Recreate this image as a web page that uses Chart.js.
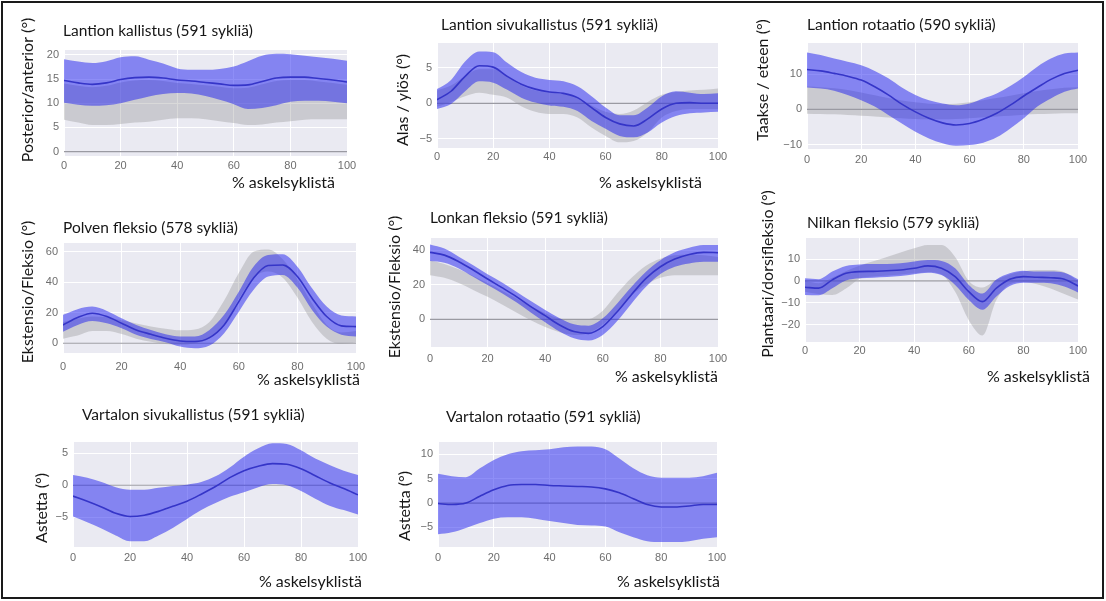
<!DOCTYPE html>
<html><head><meta charset="utf-8">
<script src="https://cdn.jsdelivr.net/npm/chart.js@4.4.1/dist/chart.umd.min.js"></script>
<style>
html,body{margin:0;padding:0;background:#fff;}
body{width:1106px;height:601px;position:relative;overflow:hidden;}
#frame{position:absolute;left:1px;top:1px;width:1099px;height:594px;border:2px solid #1a1a1a;}
canvas{position:absolute;}
</style></head><body>
<div id="frame"></div>
<script>
// ---- shared axis data ----
const X = [0,5,10,15,20,25,30,35,40,45,50,55,60,65,70,75,80,85,90,95,100];
const xTicks = [0,20,40,60,80,100];
const xLabel = '% askelsyklistä';

// ---- Panel 1: Lantion kallistus ----
const p1Title = 'Lantion kallistus (591 sykliä)';
const p1YLabel = 'Posterior/anterior (°)';
const p1YTicks = [0,5,10,15,20];
const p1Mean   = [14.7,14.2,13.9,14.2,14.9,15.3,15.4,15.2,14.8,14.6,14.3,14.0,13.7,13.8,14.5,15.2,15.4,15.4,15.1,14.8,14.4];
const p1BlueUp = [19.1,18.6,18.3,18.7,19.5,19.7,19.0,18.2,17.2,16.9,16.9,17.1,17.6,18.7,19.8,20.2,20.1,19.8,19.5,19.2,18.8];
const p1BlueLo = [10.1,9.7,9.5,9.6,10.0,10.7,11.4,11.9,12.1,12.0,11.5,10.7,9.8,8.8,9.0,9.6,10.3,10.5,10.5,10.3,10.0];
const p1GrayUp = [14.1,13.6,13.3,13.6,14.3,14.7,14.8,14.6,14.2,14.0,13.7,13.4,13.1,13.2,13.9,14.6,14.8,14.8,14.5,14.2,13.8];
const p1GrayLo = [6.6,6.0,5.5,5.5,5.7,6.0,6.2,6.6,6.9,6.9,6.7,6.3,5.9,5.5,5.6,6.0,6.3,6.6,6.7,6.7,6.7];

// ---- Panel 2: Lantion sivukallistus ----
const p2Title = 'Lantion sivukallistus (591 sykliä)';
const p2YLabel = 'Alas / ylös (°)';
const p2YTicks = [-5,0,5];
const p2Mean   = [0.5,1.7,3.8,5.3,5.1,3.8,2.7,2.0,1.6,1.4,0.8,-0.6,-2.0,-2.9,-3.2,-2.2,-0.8,0.0,0.1,0.0,0.0];
const p2BlueUp = [2.0,3.3,5.9,7.3,7.2,5.7,4.4,3.6,3.3,3.1,2.4,1.0,-0.6,-1.7,-1.7,-0.6,1.0,1.7,1.5,1.3,1.4];
const p2BlueLo = [-0.8,-0.1,1.7,3.1,2.9,1.9,0.8,0.1,-0.3,-0.5,-1.1,-2.5,-3.6,-4.6,-4.8,-4.1,-2.7,-1.8,-1.4,-1.3,-1.2];
const p2GrayUp = [1.8,2.5,3.8,4.8,4.8,3.8,2.5,1.8,1.5,1.3,0.8,-0.3,-1.2,-1.5,-1.0,0.2,1.2,1.6,1.8,1.9,2.1];
const p2GrayLo = [-0.5,0.2,1.0,1.5,1.2,0.8,-0.4,-1.2,-1.5,-1.5,-2.0,-3.4,-4.6,-5.5,-5.3,-4.1,-2.0,-1.1,-0.8,-0.8,-0.8];

// ---- Panel 3: Lantion rotaatio ----
const p3Title = 'Lantion rotaatio (590 sykliä)';
const p3YLabel = 'Taakse / eteen (°)';
const p3YTicks = [-10,0,10];
const p3Mean   = [11.3,10.9,10.2,9.4,8.3,6.4,4.1,1.5,-0.7,-2.5,-3.8,-4.4,-4.0,-2.8,-1.1,1.2,3.8,6.2,8.5,10.2,11.1];
const p3BlueUp = [16.1,15.4,14.4,13.5,12.5,10.9,8.8,6.2,4.1,2.6,1.7,1.2,1.7,3.1,4.5,6.6,9.2,12.1,14.4,15.8,16.1];
const p3BlueLo = [6.2,5.9,5.3,4.1,2.6,0.8,-1.6,-4.0,-6.3,-8.2,-9.6,-10.3,-10.1,-9.4,-7.9,-5.4,-2.5,0.8,3.1,5.0,5.9];
const p3GrayUp = [6.5,6.3,6.0,5.5,4.8,4.0,3.2,2.5,2.0,1.6,1.5,1.6,2.0,2.6,3.2,3.9,4.6,5.2,5.7,6.1,6.3];
const p3GrayLo = [-1.2,-1.3,-1.4,-1.6,-1.8,-2.0,-2.3,-2.5,-2.7,-2.8,-2.8,-2.7,-2.5,-2.2,-2.0,-1.8,-1.5,-1.3,-1.2,-1.1,-1.1];

// ---- Panel 4: Polven fleksio ----
const p4Title = 'Polven fleksio (578 sykliä)';
const p4YLabel = 'Ekstensio/Fleksio (°)';
const p4YTicks = [0,20,40,60];
const p4Mean   = [12.0,16.8,19.7,17.5,13.1,8.7,5.9,3.3,1.5,1.1,3.7,12.0,27.3,42.6,50.9,51.3,43.7,29.5,17.5,11.4,10.9];
const p4BlueUp = [18.6,22.3,24.0,21.2,16.4,12.0,8.7,5.9,4.4,4.4,8.7,18.6,33.8,50.2,57.9,58.3,50.2,36.0,24.0,18.1,17.5];
const p4BlueLo = [7.6,12.0,14.6,13.1,9.8,5.5,2.8,0.7,-2.2,-3.3,-1.5,6.6,20.7,34.9,43.7,44.8,36.5,21.8,10.9,5.5,4.4];
const p4GrayUp = [14,16,17.5,17,15,13,11,9.5,8.5,9,14,28,46,60,61.5,55,42,26,12,7,8];
const p4GrayLo = [3,5,8,8,6,3,1,-0.5,-1,0,3,12,29,43,47,43,30,14,3,-0.5,0.5];

// ---- Panel 5: Lonkan fleksio ----
const p5Title = 'Lonkan fleksio (591 sykliä)';
const p5YLabel = 'Ekstensio/Fleksio (°)';
const p5YTicks = [0,20,40];
const p5Mean   = [38.7,37.1,33.3,28.5,23.3,18.3,13.1,7.3,2.1,-3.3,-7.1,-8.1,-4.2,4.4,14.4,23.7,30.4,34.8,37.5,38.7,38.5];
const p5BlueUp = [43.3,41,36.2,31.3,26,21.3,16,10.6,5.4,0.6,-2.9,-3.7,0.6,9.2,18.8,27.5,34.2,38.7,41.3,42.9,42.9];
const p5BlueLo = [33.7,32.7,29.4,24.6,19.8,15,9.8,4,-1.7,-7.1,-11,-12.3,-9,-1,9.2,18.8,26.2,30.4,32.3,33.3,33.3];
const p5GrayUp = [34,32,29,25,21,16.5,12,7.5,3.5,0.5,-0.5,0,5,15,24,31,35,37,37.5,37,36];
const p5GrayLo = [25.5,24,21,17,13,8.5,4,-0.5,-4.5,-7.5,-9,-8,-3,5,14,20,24,25.5,25.5,25.5,25.5];

// ---- Panel 6: Nilkan fleksio ----
const p6Title = 'Nilkan fleksio (579 sykliä)';
const p6YLabel = 'Plantaari/dorsifleksio (°)';
const p6YTicks = [-20,-10,0,10];
const p6Mean   = [-2.9,-3.3,0.5,3.5,4.3,4.4,4.7,5.0,5.8,6.9,5.8,2.0,-4.9,-9.5,-3.4,0.8,2.0,1.7,1.5,0.8,-2.3];
const p6BlueUp = [1.2,0.8,4.3,6.9,7.6,7.8,7.8,8.1,8.9,9.6,9.2,5.8,-1.8,-5.8,0.5,3.5,4.7,4.3,4.3,3.8,0.8];
const p6BlueLo = [-6.4,-6.6,-3.4,0.2,1.2,1.5,1.8,2.3,3.1,3.8,2.7,-1.8,-8.7,-13.2,-7.2,-2.3,-0.8,-0.8,-1.1,-2.6,-5.3];
const p6GrayUp = [0,-1,1.5,4.5,7,9,11,13,15,16.5,16.5,11,0,-3,0.5,3,4.5,5,5,4,0];
const p6GrayLo = [-5,-6,-6.5,-3.5,1,2,2.5,3,3.5,4,3,-5,-18,-25,-9,-1.5,-0.5,-1.5,-3.5,-6,-8.5];

// ---- Panel 7: Vartalon sivukallistus ----
const p7Title = 'Vartalon sivukallistus (591 sykliä)';
const p7YLabel = 'Astetta (°)';
const p7YTicks = [-5,0,5];
const p7Mean   = [-1.7,-2.5,-3.4,-4.4,-4.9,-4.7,-4.1,-3.3,-2.5,-1.4,-0.2,1.2,2.3,3.0,3.4,3.3,2.6,1.5,0.4,-0.5,-1.5];
const p7BlueUp = [1.6,1.2,0.5,-0.3,-0.7,-0.7,-0.4,-0.1,0.1,0.5,1.4,2.8,4.5,5.8,6.6,6.5,5.5,4.2,3.2,2.3,1.6];
const p7BlueLo = [-4.9,-5.8,-6.8,-7.9,-8.8,-8.8,-7.9,-6.7,-5.3,-3.9,-2.8,-1.8,-1.1,-0.3,0.2,0,-0.9,-2.1,-3.2,-3.9,-4.6];

// ---- Panel 8: Vartalon rotaatio ----
const p8Title = 'Vartalon rotaatio (591 sykliä)';
const p8YLabel = 'Astetta (°)';
const p8YTicks = [-5,0,5,10];
const p8Mean   = [-0.1,-0.3,0,1.4,2.7,3.6,3.8,3.8,3.6,3.5,3.4,3.3,2.9,2.1,0.9,-0.3,-0.8,-0.8,-0.6,-0.3,-0.3];
const p8BlueUp = [6.0,5.5,5.3,7.1,8.8,10.0,10.6,10.8,11.0,11.4,11.6,11.6,11.0,9.1,7.1,5.7,5.2,5.2,5.2,5.5,6.2];
const p8BlueLo = [-6.4,-6.0,-5.1,-4.1,-3.2,-2.9,-2.9,-3.2,-3.7,-4.1,-4.5,-4.6,-4.8,-6.0,-7.0,-7.8,-8.0,-8.0,-7.8,-7.3,-7.0];

// ---- layout (page pixels): plot rect [L,T,R,B], y range, text anchors ----
const panels = [
  {title:p1Title,yLabel:p1YLabel,yTicks:p1YTicks,mean:p1Mean,up:p1BlueUp,lo:p1BlueLo,gUp:p1GrayUp,gLo:p1GrayLo,
   plot:[64,50,347,156],yMin:-0.9,yMax:21,tPos:[63,31],yPos:[28,90],xPos:[335,183],tickPad:3},
  {title:p2Title,yLabel:p2YLabel,yTicks:p2YTicks,mean:p2Mean,up:p2BlueUp,lo:p2BlueLo,gUp:p2GrayUp,gLo:p2GrayLo,
   plot:[437,43,718,148],yMin:-6.3,yMax:8.5,tPos:[441,25],yPos:[403,100],xPos:[702,183],tickPad:2},
  {title:p3Title,yLabel:p3YLabel,yTicks:p3YTicks,mean:p3Mean,up:p3BlueUp,lo:p3BlueLo,gUp:p3GrayUp,gLo:p3GrayLo,
   plot:[807,43,1078,149],yMin:-11.2,yMax:18.8,tPos:[807,25],yPos:[763,80],xPos:null,tickPad:4},
  {title:p4Title,yLabel:p4YLabel,yTicks:p4YTicks,mean:p4Mean,up:p4BlueUp,lo:p4BlueLo,gUp:p4GrayUp,gLo:p4GrayLo,
   plot:[63,243,356,353],yMin:-6.4,yMax:65.7,tPos:[63,228],yPos:[28,292],xPos:[360,380],tickPad:7},
  {title:p5Title,yLabel:p5YLabel,yTicks:p5YTicks,mean:p5Mean,up:p5BlueUp,lo:p5BlueLo,gUp:p5GrayUp,gLo:p5GrayLo,
   plot:[430,238,718,347],yMin:-16,yMax:47,tPos:[430,218],yPos:[395,287],xPos:[718,377],tickPad:5},
  {title:p6Title,yLabel:p6YLabel,yTicks:p6YTicks,mean:p6Mean,up:p6BlueUp,lo:p6BlueLo,gUp:p6GrayUp,gLo:p6GrayLo,
   plot:[805,238,1078,342],yMin:-28,yMax:19.7,tPos:[807,223],yPos:[768,274],xPos:[1090,377],tickPad:2},
  {title:p7Title,yLabel:p7YLabel,yTicks:p7YTicks,mean:p7Mean,up:p7BlueUp,lo:p7BlueLo,gUp:null,gLo:null,
   plot:[73,442,358,547],yMin:-9.7,yMax:6.8,tPos:[82,415],yPos:[42,508],xPos:[362,582],tickPad:4},
  {title:p8Title,yLabel:p8YLabel,yTicks:p8YTicks,mean:p8Mean,up:p8BlueUp,lo:p8BlueLo,gUp:null,gLo:null,
   plot:[438,442,717,547],yMin:-9,yMax:12.5,tPos:[446,417],yPos:[405,506],xPos:[720,582],tickPad:4}
];

const M = {l:80,t:62,r:45,b:55};   // canvas margin round the plot rect
const AX_W = 36, AX_H = 24;         // space reserved for tick labels
const BG = '#EAEAF2', BLUE_FILL = 'rgba(30,30,240,0.5)', GRAY_FILL = 'rgba(128,128,128,0.3)';
const MEAN_COL = '#3535c8', ZERO_COL = '#9a9aa2';
const TEXT_FONT = 'Lato, "Open Sans", sans-serif';
const TICK_FONT = '"Liberation Sans", Arial, sans-serif';

const xy = ys => X.map((x,i)=>({x:x,y:ys[i]}));
const fmt = v => v < 0 ? '\u2212' + Math.abs(v) : String(v);

const bgPlugin = {
  id:'plotBg',
  beforeDraw(chart){
    const a = chart.chartArea, c = chart.ctx;
    c.save(); c.fillStyle = BG; c.fillRect(a.left, a.top, a.right-a.left, a.bottom-a.top); c.restore();
  }
};
const textPlugin = {
  id:'panelText',
  afterDraw(chart, args, o){
    const c = chart.ctx;
    c.save();
    c.fillStyle = '#161616';
    c.textBaseline = 'middle';
    c.font = '15.5px ' + TEXT_FONT;
    c.textAlign = 'left';
    c.fillText(o.title, o.tPos[0]-o.ox, o.tPos[1]-o.oy);
    c.font = '16px ' + TEXT_FONT;
    if (o.xPos){ c.textAlign = 'right'; c.fillText(o.xLabel, o.xPos[0]-o.ox, o.xPos[1]-o.oy); }
    c.translate(o.yPos[0]-o.ox, o.yPos[1]-o.oy);
    c.rotate(-Math.PI/2);
    c.textAlign = 'center';
    c.fillText(o.yLabel, 0, 0);
    c.restore();
  }
};

panels.forEach(p => {
  const [L,T,R,B] = p.plot;
  const left = L - M.l, top = T - M.t;
  const w = (R - L) + M.l + M.r, h = (B - T) + M.t + M.b;
  const cv = document.createElement('canvas');
  cv.width = w; cv.height = h;
  cv.style.left = left + 'px'; cv.style.top = top + 'px';
  cv.style.width = w + 'px'; cv.style.height = h + 'px';
  document.body.appendChild(cv);

  const band = {pointRadius:0, borderWidth:0, tension:0, cubicInterpolationMode:'monotone'};
  const ds = [
    {label:'mean', data:xy(p.mean), borderColor:MEAN_COL, borderWidth:1.6, pointRadius:0, cubicInterpolationMode:'monotone', fill:false},
    Object.assign({label:'blueUp', data:xy(p.up), backgroundColor:BLUE_FILL, borderColor:'rgba(0,0,0,0)', fill:'+1'}, band),
    Object.assign({label:'blueLo', data:xy(p.lo), borderColor:'rgba(0,0,0,0)', fill:false}, band),
    {label:'zero', data:[{x:0,y:0},{x:100,y:0}], borderColor:ZERO_COL, borderWidth:1.2, pointRadius:0, fill:false}
  ];
  if (p.gUp){
    ds.push(Object.assign({label:'grayUp', data:xy(p.gUp), backgroundColor:GRAY_FILL, borderColor:'rgba(0,0,0,0)', fill:'+1'}, band));
    ds.push(Object.assign({label:'grayLo', data:xy(p.gLo), borderColor:'rgba(0,0,0,0)', fill:false}, band));
  }

  new Chart(cv, {
    type:'line',
    data:{datasets:ds},
    options:{
      responsive:false, animation:false, devicePixelRatio:1,
      layout:{padding:{left:M.l-AX_W, top:M.t, right:M.r, bottom:M.b-AX_H}},
      plugins:{
        legend:{display:false}, tooltip:{enabled:false}, title:{display:false},
        panelText:{title:p.title, yLabel:p.yLabel, xLabel:xLabel, tPos:p.tPos, yPos:p.yPos, xPos:p.xPos, ox:left, oy:top}
      },
      scales:{
        x:{type:'linear', min:0, max:100,
           afterBuildTicks:s=>{ s.ticks = xTicks.map(v=>({value:v})); },
           afterFit:s=>{ s.height = AX_H; },
           grid:{color:'#ffffff', lineWidth:1, drawTicks:false},
           border:{display:false},
           ticks:{autoSkip:false, maxRotation:0, minRotation:0, padding:p.tickPad, color:'#6e6e6e', font:{family:TICK_FONT, size:11}, callback:fmt}},
        y:{type:'linear', min:p.yMin, max:p.yMax,
           afterBuildTicks:s=>{ s.ticks = p.yTicks.map(v=>({value:v})); },
           afterFit:s=>{ s.width = AX_W; },
           grid:{color:'#ffffff', lineWidth:1, drawTicks:false},
           border:{display:false},
           ticks:{autoSkip:false, padding:5, color:'#6e6e6e', font:{family:TICK_FONT, size:11}, callback:fmt}}
      }
    },
    plugins:[bgPlugin, textPlugin]
  });
});
</script>
</body></html>
